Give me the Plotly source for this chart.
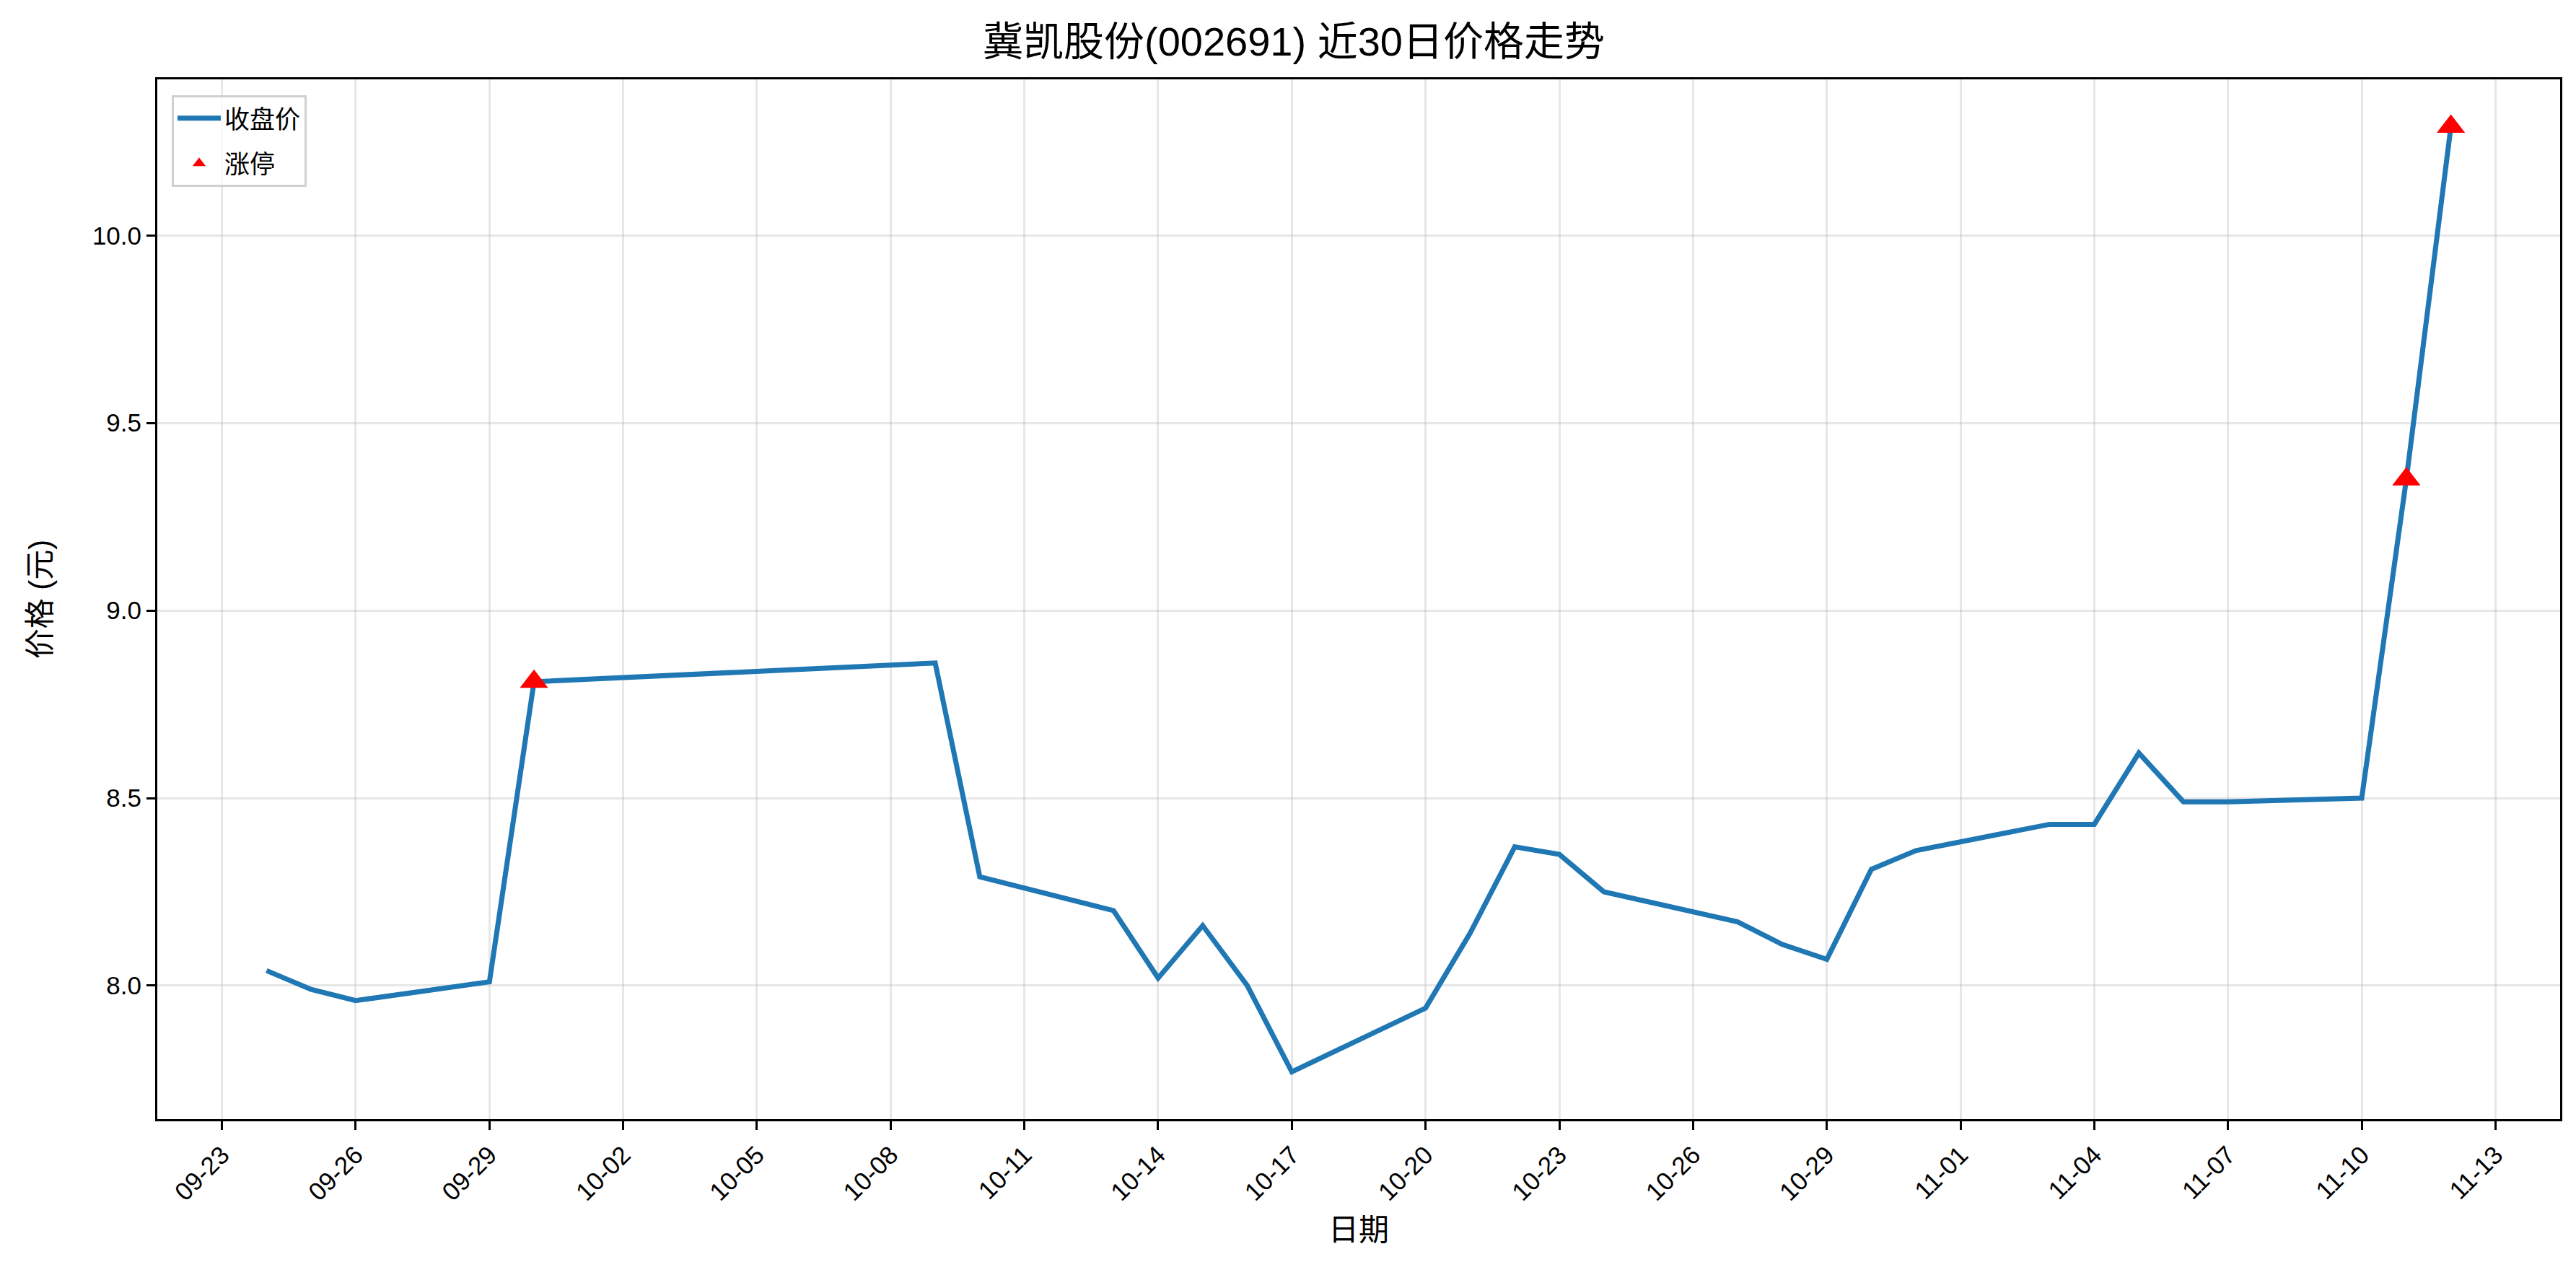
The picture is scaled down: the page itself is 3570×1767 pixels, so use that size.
import plotly.graph_objects as go
import pandas as pd

# ---- data ----
dates = ["2025-09-24", "2025-09-25", "2025-09-26", "2025-09-29", "2025-09-30",
         "2025-10-09", "2025-10-10", "2025-10-13", "2025-10-14", "2025-10-15",
         "2025-10-16", "2025-10-17", "2025-10-20", "2025-10-21", "2025-10-22",
         "2025-10-23", "2025-10-24", "2025-10-27", "2025-10-28", "2025-10-29",
         "2025-10-30", "2025-10-31", "2025-11-03", "2025-11-04", "2025-11-05",
         "2025-11-06", "2025-11-07", "2025-11-10", "2025-11-11", "2025-11-12"]
close = [8.04, 7.99, 7.96, 8.01, 8.81,
         8.86, 8.29, 8.20, 8.02, 8.16,
         8.00, 7.77, 7.94, 8.14, 8.37,
         8.35, 8.25, 8.17, 8.11, 8.07,
         8.31, 8.36, 8.43, 8.43, 8.62,
         8.49, 8.49, 8.50, 9.35, 10.29]
limit_up_dates = ["2025-09-30", "2025-11-11", "2025-11-12"]
limit_up_prices = [8.81, 9.35, 10.29]
tick_dates = ["2025-09-23", "2025-09-26", "2025-09-29", "2025-10-02", "2025-10-05",
              "2025-10-08", "2025-10-11", "2025-10-14", "2025-10-17", "2025-10-20",
              "2025-10-23", "2025-10-26", "2025-10-29", "2025-11-01", "2025-11-04",
              "2025-11-07", "2025-11-10", "2025-11-13"]
tick_labels = [d[5:] for d in tick_dates]

title_text = "冀凯股份(002691) 近30日价格走势"

# ---- ranges (matplotlib-like 5% margins) ----
d = pd.to_datetime(dates)
span = d.max() - d.min()
xr = [d.min() - span * 0.05, d.max() + span * 0.05]
ymin, ymax = min(close), max(close)
yr = [ymin - (ymax - ymin) * 0.05, ymax + (ymax - ymin) * 0.05]

FONT = "Liberation Sans, Arial, Noto Sans CJK SC, sans-serif"

fig = go.Figure()
fig.add_trace(go.Scatter(x=dates, y=close, mode="lines", name="收盘价", legendgroup="a",
                         line=dict(color="#1f77b4", width=7)))
fig.add_trace(go.Scatter(x=limit_up_dates, y=limit_up_prices, mode="markers", name="涨停",
                         legendgroup="b",
                         marker=dict(symbol="triangle-up", color="red", size=34,
                                     line=dict(width=0))))

axis_common = dict(showline=True, linecolor="black", linewidth=3, mirror=True,
                   ticks="outside", ticklen=12, tickwidth=2.5, tickcolor="black",
                   showgrid=True, gridcolor="rgba(176,176,176,0.3)", gridwidth=2.5,
                   zeroline=False, tickfont=dict(size=35, color="black", family=FONT))

fig.update_xaxes(type="date", range=xr, tickvals=tick_dates, ticktext=tick_labels,
                 tickangle=-45,
                 title=dict(text="日期", font=dict(size=42, color="black", family=FONT),
                            standoff=20),
                 **axis_common)
fig.update_yaxes(range=yr, tickvals=[8.0, 8.5, 9.0, 9.5, 10.0], tickformat=".1f",
                 title=dict(text="价格 (元)", font=dict(size=42, color="black", family=FONT),
                            standoff=45),
                 **axis_common)

fig.update_layout(
    width=3570, height=1767,
    margin=dict(l=210, r=30, t=102, b=224),
    paper_bgcolor="white", plot_bgcolor="white",
    title=dict(text=title_text, x=0.5, xanchor="center", y=0.972, yanchor="middle",
               font=dict(size=56, color="black", family=FONT)),
    font=dict(family=FONT, color="black"),
    legend=dict(x=0.006, y=0.985, xanchor="left", yanchor="top",
                bgcolor="rgba(255,255,255,0.8)", bordercolor="#d0d0d0", borderwidth=3,
                font=dict(size=35, color="black", family=FONT),
                itemwidth=60, tracegroupgap=14, entrywidth=230, entrywidthmode="pixels"),
    showlegend=True,
)

fig.write_html("out.html")
